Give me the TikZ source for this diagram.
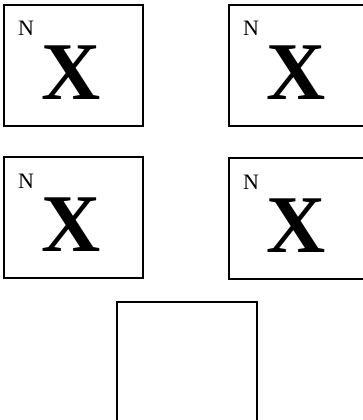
\documentclass[tikz,border=0pt]{standalone}
\usepackage{fontspec}
\setmainfont{Liberation Serif}
\usetikzlibrary{positioning}

\begin{document}
\begin{tikzpicture}[x=1pt,y=-1pt,
  box/.style={draw,line width=1.8pt,inner sep=0,outer sep=0,minimum width=139pt,minimum height=121pt},
  sup/.style={inner sep=0,font=\fontsize{22}{22}\selectfont},
  big/.style={inner sep=0,font=\fontsize{82}{82}\selectfont\bfseries}]
 \useasboundingbox (0,0) rectangle (363,420);
 \clip (0,0) rectangle (363,420);
 \foreach \n/\x/\y in {a/4/5,b/229/5,c/4/157,d/229/158}{
  \node[box,anchor=north west] (\n) at (\x,\y) {};
  \node[sup,anchor=base west] (\n N) at ([shift={(14,31)}]\n.north west) {N};
  \node[big,anchor=base] (\n X) at ([shift={(67,94)}]\n.north west) {X};
 }
 \node[box,anchor=north west,minimum width=140pt,minimum height=130pt] (e) at (117,302) {};
\end{tikzpicture}
\end{document}
